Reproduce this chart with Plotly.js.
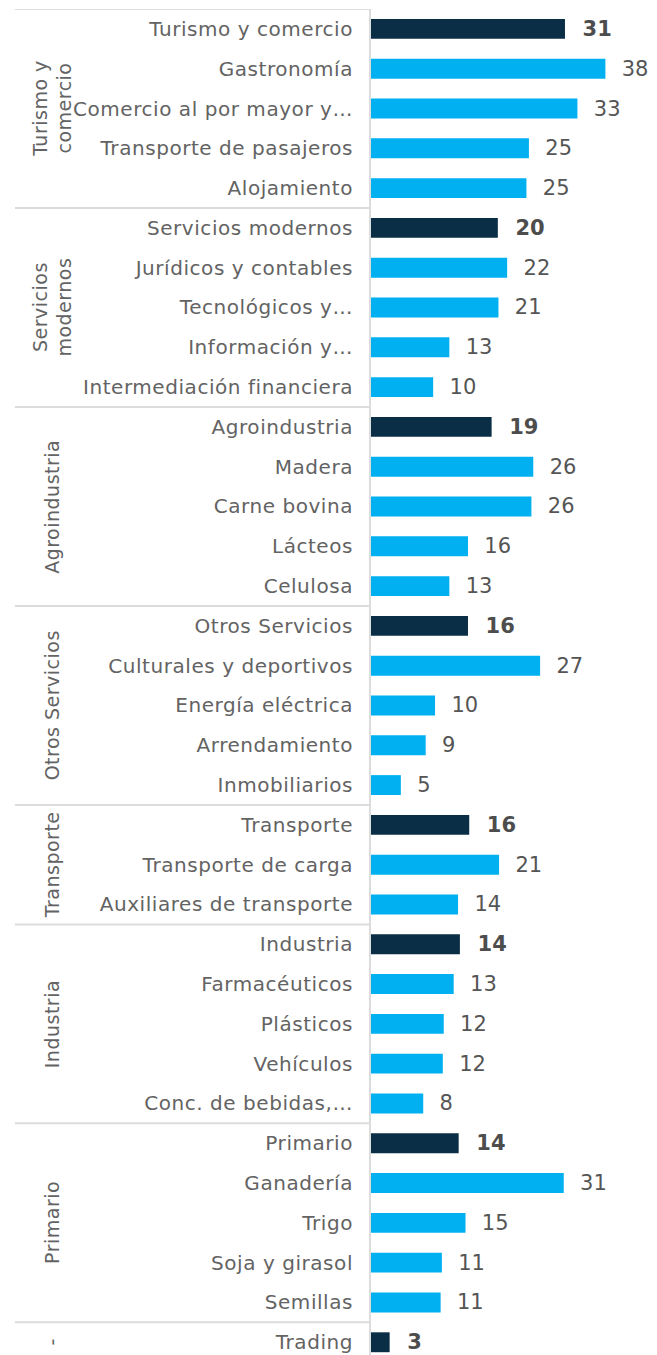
<!DOCTYPE html>
<html>
<head>
<meta charset="utf-8">
<script src="https://cdn.plot.ly/plotly-3.0.1.min.js"></script>
<style>
html,body{margin:0;padding:0;background:#fff;}
#chart{width:657px;height:1355px;}
#chart .ytick text{letter-spacing:0.55px;}
#chart .annotation-text{letter-spacing:0.5px;}
</style>
</head>
<body>
<div id="chart"></div>
<script>
// Row labels (top to bottom)
const categories = [
  "Turismo y comercio","Gastronomía","Comercio al por mayor y…","Transporte de pasajeros","Alojamiento",
  "Servicios modernos","Jurídicos y contables","Tecnológicos y…","Información y…","Intermediación financiera",
  "Agroindustria","Madera","Carne bovina","Lácteos","Celulosa",
  "Otros Servicios","Culturales y deportivos","Energía eléctrica","Arrendamiento","Inmobiliarios",
  "Transporte","Transporte de carga","Auxiliares de transporte",
  "Industria","Farmacéuticos","Plásticos","Vehículos","Conc. de bebidas,…",
  "Primario","Ganadería","Trigo","Soja y girasol","Semillas",
  "Trading"
];
// Sector totals (dark bars)
const totalLabels = ["Turismo y comercio","Servicios modernos","Agroindustria","Otros Servicios","Transporte","Industria","Primario","Trading"];
const totalValues = [31.2, 20.4, 19.4, 15.6, 15.8, 14.3, 14.1, 3.0];
// Sub-sectors (light bars)
const subLabels = [
  "Gastronomía","Comercio al por mayor y…","Transporte de pasajeros","Alojamiento",
  "Jurídicos y contables","Tecnológicos y…","Información y…","Intermediación financiera",
  "Madera","Carne bovina","Lácteos","Celulosa",
  "Culturales y deportivos","Energía eléctrica","Arrendamiento","Inmobiliarios",
  "Transporte de carga","Auxiliares de transporte",
  "Farmacéuticos","Plásticos","Vehículos","Conc. de bebidas,…",
  "Ganadería","Trigo","Soja y girasol","Semillas"
];
const subValues = [
  37.7, 33.2, 25.4, 25.0,
  21.9, 20.5, 12.6, 10.0,
  26.1, 25.8, 15.6, 12.6,
  27.2, 10.3, 8.8, 4.8,
  20.6, 14.0,
  13.3, 11.7, 11.55, 8.4,
  31.0, 15.2, 11.4, 11.2
];
// Groups: label (with line breaks), first and last row label
const groupNames = ["Turismo y<br>comercio","Servicios<br>modernos","Agroindustria","Otros Servicios","Transporte","Industria","Primario","-"];
const groupFirst = ["Turismo y comercio","Servicios modernos","Agroindustria","Otros Servicios","Transporte","Industria","Primario","Trading"];
const groupLast  = ["Alojamiento","Intermediación financiera","Celulosa","Inmobiliarios","Auxiliares de transporte","Conc. de bebidas,…","Semillas","Trading"];

const FONT = "DejaVu Sans, sans-serif";
const GRAY = "#636363";
const pad = "\u00a0\u00a0";

const traces = [
  {
    type: "bar", orientation: "h",
    y: totalLabels, x: totalValues,
    marker: {color: "#0a2e45"},
    width: 0.5,
    texttemplate: pad + "%{x:.0f}",
    textposition: "outside",
    constraintext: "none",
    cliponaxis: false,
    textfont: {family: FONT, size: 21, color: "#4d4d4d", weight: 700},
    hoverinfo: "skip"
  },
  {
    type: "bar", orientation: "h",
    y: subLabels, x: subValues,
    marker: {color: "#00b0f0"},
    width: 0.5,
    texttemplate: pad + "%{x:.0f}",
    textposition: "outside",
    constraintext: "none",
    cliponaxis: false,
    textfont: {family: FONT, size: 21, color: "#555555"},
    hoverinfo: "skip"
  }
];

const idx = c => categories.indexOf(c);
const shapes = [];
const annotations = [];
for (let g = 0; g < groupNames.length; g++) {
  const a = idx(groupFirst[g]), b = idx(groupLast[g]);
  shapes.push({type: "line", xref: "paper", yref: "y", x0: -1.245, x1: 0, y0: a - 0.5, y1: a - 0.5,
               line: {color: "#dcdcdc", width: 2}, layer: "above"});
  annotations.push({
    xref: "paper", yref: "y", x: -1.115, y: (a + b) / 2,
    text: groupNames[g], showarrow: false, textangle: -90,
    font: {family: FONT, size: 19, color: GRAY}, xanchor: "center", yanchor: "middle"
  });
}

const layout = {
  width: 657, height: 1355,
  margin: {l: 371, r: 0, t: 9, b: 0, pad: 0},
  paper_bgcolor: "#ffffff", plot_bgcolor: "#ffffff",
  barmode: "overlay",
  showlegend: false,
  xaxis: {range: [0, 46], showgrid: false, zeroline: false, showticklabels: false, ticks: "", showline: false, fixedrange: true},
  yaxis: {
    type: "category", categoryorder: "array", categoryarray: categories,
    range: [33.32, -0.5], autorange: false,
    showgrid: false, zeroline: false, ticks: "outside", ticklen: 12, tickcolor: "rgba(0,0,0,0)",
    showline: true, linecolor: "#dcdcdc", linewidth: 2,
    tickfont: {family: FONT, size: 20, color: GRAY}
  },
  shapes: shapes,
  annotations: annotations
};

Plotly.newPlot("chart", traces, layout, {displayModeBar: false, staticPlot: true});
</script>
</body>
</html>
